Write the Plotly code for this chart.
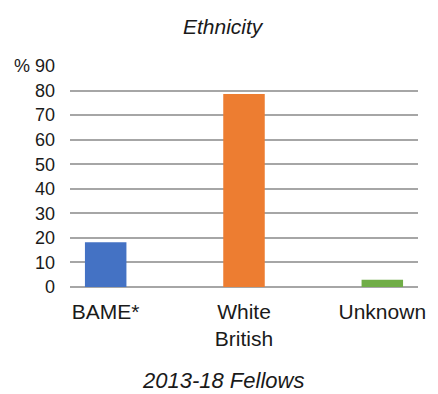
import plotly.graph_objects as go

categories = ["BAME*", "White<br>British", "Unknown"]
values = [18.2, 78.6, 3.0]
colors = ["#4472C4", "#ED7D31", "#70AD47"]
tick_vals = [0, 10, 20, 30, 40, 50, 60, 70, 80, 90]
tick_text = ["0", "10", "20", "30", "40", "50", "60", "70", "80", "% 90"]

fig = go.Figure(go.Bar(
    x=[0, 1, 2], y=values, marker=dict(color=colors, line=dict(width=0)),
    width=0.30,
))

W, H = 438, 394
L, R, T, B = 70, 17, 66, 107
ph = H - T - B

def ypaper(ypix):
    return (H - B - ypix) / ph

def xpaper(xpix):
    return (xpix - L) / (W - L - R)

fig.update_layout(
    width=W, height=H,
    margin=dict(l=L, r=R, t=T, b=B),
    paper_bgcolor="white", plot_bgcolor="white",
    font=dict(family="Liberation Sans, Arial, sans-serif", color="#1a1a1a"),
    showlegend=False,
    xaxis=dict(
        range=[-0.258, 2.258], tickvals=[0, 1, 2], ticktext=categories,
        showgrid=False, zeroline=False, showline=False, ticks="",
        tickfont=dict(size=21), ticklabelstandoff=10,
    ),
    yaxis=dict(
        range=[0, 90], tickvals=tick_vals, ticktext=tick_text,
        showgrid=True, gridcolor="#a6a6a6", gridwidth=2,
        zeroline=True, zerolinecolor="#a6a6a6", zerolinewidth=2,
        showline=False, ticks="", tickfont=dict(size=18),
        ticklabelstandoff=14,
    ),
    annotations=[
        dict(text="<i>Ethnicity</i>", x=xpaper(225), y=ypaper(27), xref="paper", yref="paper",
             showarrow=False, xanchor="center", yanchor="middle", font=dict(size=21)),
        dict(text="<i>2013-18 Fellows</i>", x=xpaper(224), y=ypaper(380), xref="paper", yref="paper",
             showarrow=False, xanchor="center", yanchor="middle", font=dict(size=22)),
    ],
)

fig.write_html("out.html")
